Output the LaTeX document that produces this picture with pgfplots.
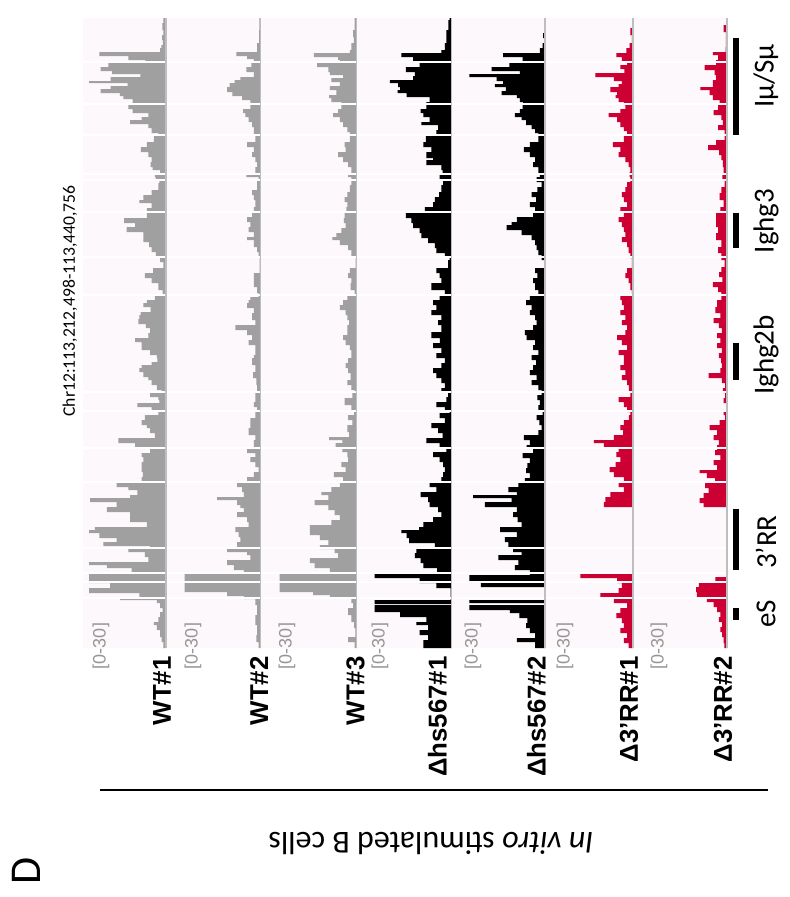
\documentclass[border=0pt]{standalone}
\usepackage{pgfplots}
\pgfplotsset{compat=1.18}
\usepackage{fontspec}
\setmainfont{Carlito}
\newfontfamily\lab{Liberation Sans}
\definecolor{wtgray}{RGB}{160,160,160}
\definecolor{trackred}{RGB}{204,0,51}
\definecolor{bgpink}{RGB}{253,248,252}
\definecolor{basegray}{RGB}{190,190,190}
\definecolor{labgray}{RGB}{150,150,150}
\pgfplotsset{track/.style={hide axis, scale only axis, anchor=north east, height=315pt,
  xmin=0, ymin=18, ymax=648, x dir=reverse, y dir=reverse, clip=false}}
\begin{document}
\begin{tikzpicture}
\useasboundingbox (0,0) rectangle (395pt,-448.5pt);
\begin{scope}[x=0.5pt,y=-0.5pt]
\fill[bgpink] (83,18) rectangle (727,648);
\end{scope}
% WT#1
\begin{axis}[track, at={(83pt,-9pt)}, width=41.5pt, xmax=32.34]
\addplot[xbar interval, fill=wtgray, draw=none] coordinates {
(1,18) (1.4,23) (1,30) (1.5,35) (1.2,40) (1.8,45) (2.3,48) (26,52) (14.7,56) (8,60) (22.5,63) (25.5,67) (21,71) (10,74) (21.6,77) (30,81) (15,83) (21.6,86) (25.5,89) (18,93) (16.6,96) (13,99) (8.8,103) (14.7,105) (13,109) (6.9,113) (9.5,117) (14,120) (6.9,124) (5.6,128) (3,133) (4.7,136) (7.5,142) (9.8,147) (6.9,152) (5.6,157) (6,162) (5.2,167) (2.3,170) (4.3,173) (4,177) (2.6,180) (3,183) (5.6,190) (8.8,195) (10.4,200) (5.6,203) (7.5,208) (7.5,212) (16.3,218) (12,223) (15.3,227) (8.8,232) (8.8,237) (6.6,242) (5.6,247) (3.9,252) (2.3,257) (1,262) (5,268) (8.2,273) (5.6,278) (3,283) (1.3,290) (4.3,295) (7.5,300) (8.8,303) (6,307) (9.9,312) (10.4,315) (10.8,319) (7.8,324) (6.2,328) (6.9,333) (12,338) (9.5,342) (6.2,350) (3.6,355) (3.4,358) (5.6,362) (9.5,365) (10.4,368) (8.8,372) (6.9,377) (5.6,380) (3.6,385) (1.7,390) (6.2,393) (3,397) (2.6,400) (11.2,403) (5.6,407) (3,410) (8.2,415) (9.5,420) (7.5,425) (6.2,428) (4.3,433) (18.6,438) (12,443) (6.2,448) (9.5,453) (8.8,457) (9.5,462) (9.5,467) (9,472) (9.5,477) (19.2,482) (14.7,487) (11.2,490) (14,495) (29.6,498) (19.2,502) (23,507) (14,512) (14,517) (7.5,522) (27.7,527) (30,530) (26,533) (19.2,538) (24.4,542) (6.2,546) (14.7,549) (8.2,552) (6.9,557) (30,562) (23,565) (13.4,568) (30,573) (30,578) (21.8,583) (30,588) (10.4,593) (17.9,597) (3.6,600) (2.3,603) (1.3,608) (2.3,612) (3,617) (4.7,622) (3.6,625) (2.3,630) (1.7,637) (1,642) (0,648)};
\end{axis}
% WT#2
\begin{axis}[track, at={(130.25pt,-9pt)}, width=47.25pt, xmax=36.82]
\addplot[xbar interval, fill=wtgray, draw=none] coordinates {
(0.4,18) (0.5,30) (1.3,43) (1.3,48) (9.4,52) (5.2,56) (2.6,59) (3.6,63) (5.5,67) (2.6,72) (7.8,77) (10.1,80) (12,83) (13,87) (11,92) (7.2,96) (3.9,100) (3.9,104) (6.8,109) (5.9,113) (4.6,117) (3.3,122) (2.6,127) (2,135) (5.2,142) (2.6,147) (3.3,152) (2,157) (1.3,162) (2,167) (5.5,173) (0.7,177) (1.3,180) (3.3,190) (2.6,195) (2,200) (2.6,207) (3.3,212) (5.2,217) (3.9,222) (4.6,227) (2.6,232) (5.2,237) (2.6,240) (1.3,247) (0.7,252) (0.3,257) (2.6,273) (1.3,287) (0.7,293) (3.9,297) (4.6,300) (5.2,303) (2.6,308) (3.3,313) (2,320) (9.8,325) (5.2,330) (3.3,335) (4.6,340) (2,345) (2.6,355) (3.3,358) (2,365) (2.9,372) (1.6,378) (1.3,385) (2,392) (2.6,402) (1.3,407) (2,412) (3.9,418) (3.9,423) (4.6,428) (2,435) (2.6,440) (5.2,448) (2,453) (3.9,457) (2,462) (0.7,467) (2.6,472) (5.2,477) (9.1,482) (7.2,487) (6.5,492) (16.9,497) (9.1,500) (7.8,505) (6.5,508) (9.1,512) (5.2,517) (4.6,522) (9.8,527) (8.5,532) (7.8,537) (9.1,542) (13,547) (5.2,552) (3.9,555) (13,560) (10.4,565) (6.5,570) (29.6,573) (13,592) (6.5,596) (2,599) (1.3,605) (2,615) (1.3,625) (1.6,635) (0.7,642) (0,648)};
\end{axis}
% WT#3
\begin{axis}[track, at={(178.25pt,-9pt)}, width=48pt, xmax=37.40]
\addplot[xbar interval, fill=wtgray, draw=none] coordinates {
(0.7,18) (1.3,30) (1,37) (2,43) (2.6,50) (16.6,53) (7.2,57) (6.5,60) (15.3,63) (11,67) (10.4,72) (5.2,75) (9.8,78) (6.5,82) (10.4,86) (7.8,90) (10.7,95) (9.8,98) (5.9,102) (5.9,105) (7.2,109) (9.1,113) (6.5,117) (5.2,122) (3.6,127) (2.6,132) (2.6,136) (4.6,142) (4.2,147) (7.2,152) (5.2,157) (3.3,162) (2,167) (3.3,173) (2,177) (2,180) (2.6,185) (3.6,192) (4.6,197) (3.6,202) (3.9,207) (4.6,213) (4.9,218) (4.2,223) (5.9,228) (7.8,233) (9.4,237) (6.5,240) (3.3,245) (2,250) (0.3,257) (2.6,268) (3.3,273) (2,278) (2.3,283) (0.7,290) (3.6,295) (5.2,300) (6.5,305) (4.2,310) (3.6,315) (2.9,320) (3.6,325) (5.2,335) (4.2,340) (2.6,345) (2,350) (3.3,358) (4.2,363) (3.3,368) (2.3,373) (3.6,380) (2,385) (0.7,390) (1.6,393) (4.6,398) (2,405) (0.9,410) (3.3,415) (1.6,420) (3.6,425) (2.9,432) (10.7,437) (5.5,440) (8.1,443) (5.5,448) (3.6,452) (3.3,457) (5.9,462) (4.2,467) (8.8,472) (5.2,477) (6.5,482) (9.8,487) (13.7,492) (11,495) (16.3,500) (11,505) (8.5,510) (6.5,515) (9.8,520) (18.2,525) (18.2,530) (14.3,535) (11,540) (14.3,545) (8.5,549) (7.2,553) (18.2,558) (16.3,563) (10.4,568) (30,573) (16.9,592) (10.4,595) (2,598) (1.3,603) (3.3,608) (2,615) (0.9,622) (0.4,628) (3.3,637) (0.7,642) (0,648)};
\end{axis}
% Dhs567#1
\begin{axis}[track, at={(225.75pt,-9pt)}, width=47.5pt, xmax=37.01]
\addplot[xbar interval, fill=black, draw=none] coordinates {
(0.7,18) (1.2,20) (2,30) (2.6,43) (3.9,50) (19.5,53) (15,57) (5.9,61) (12.4,63) (17.8,67) (14.3,72) (15,76) (24,80) (20.8,83) (20,87) (21,90) (17.5,93) (8.5,97) (9.8,102) (9.8,105) (12,109) (11,113) (8.5,117) (11.7,122) (5.2,125) (5.9,130) (10,136) (11,142) (7.8,147) (9.8,152) (7.2,158) (9.8,160) (3.9,165) (3.5,170) (4.6,174) (3.3,180) (3.9,185) (4.8,192) (6.5,197) (7.2,202) (10.4,207) (17.8,212) (15.6,218) (15,223) (12.4,228) (11.7,233) (9.1,238) (6.5,243) (5.9,248) (2.6,253) (0.7,257) (1.3,260) (5.9,268) (4.6,273) (3.9,278) (7.8,283) (2.6,290) (4.6,295) (7.2,300) (5.9,305) (7.8,310) (3.9,315) (5.2,320) (3.9,325) (7.8,332) (4.5,338) (7.2,343) (3.9,348) (5.9,353) (2.6,358) (3.9,363) (7.2,368) (5.9,373) (3.9,378) (2.6,383) (3.9,388) (1.3,392) (2,397) (5.9,402) (2.6,407) (0.7,410) (4.6,413) (2.6,418) (7.8,423) (5.2,428) (3.5,433) (9.8,438) (4.6,443) (2,448) (7.2,452) (4.6,457) (3.3,462) (2.6,467) (3.3,472) (3.9,477) (8.5,482) (5.9,487) (12,492) (9.1,497) (8.5,502) (5.2,507) (3.9,512) (7.2,517) (11,522) (12.6,527) (19.5,530) (17.5,533) (16.5,538) (6.5,543) (13.7,548) (14.3,553) (12,558) (11,563) (5.6,568) (30,573) (12.4,578) (5.9,583) (0.3,588) (30,600) (0,604) (30,605) (20,612) (9.8,617) (13.7,622) (9.1,625) (12.4,630) (9.1,635) (11,640) (0,648)};
\end{axis}
% Dhs567#2
\begin{axis}[track, at={(272.5pt,-9pt)}, width=46.75pt, xmax=36.43]
\addplot[xbar interval, fill=black, draw=none] coordinates {
(0,18) (0.7,33) (0,38) (0.9,43) (2,48) (16.3,53) (8.7,57) (1,61) (13.9,63) (20.8,67) (9.8,71) (29.5,74) (18.9,77) (16.3,81) (19.5,84) (15.2,87) (16.9,91) (11,95) (9.8,98) (8.5,102) (8.7,105) (9.8,109) (11.7,113) (9.1,117) (7.4,120) (5.2,125) (3.9,129) (2.6,133) (2.6,136) (5.9,142) (8.2,147) (5.9,152) (3.9,157) (4.6,162) (2.6,167) (2,173) (3.3,177) (1.3,182) (3,187) (5.2,192) (3.5,197) (5.9,202) (3.9,207) (4.6,212) (11,217) (13,222) (15,225) (9.1,230) (5.2,235) (3.9,240) (3.3,245) (2.6,250) (1.3,255) (0.3,260) (3.9,268) (3,273) (4.6,278) (3.9,283) (2.6,290) (5.9,295) (7.4,300) (5.2,305) (5.9,310) (3.9,315) (3.3,320) (4.6,325) (7.8,330) (7.2,335) (3.9,340) (4.6,345) (2.6,350) (5.2,355) (3.5,360) (4.6,365) (5.9,370) (3.3,375) (5.2,380) (2.6,385) (1.3,390) (3,395) (2,400) (2.6,405) (0.9,410) (3.3,415) (2.2,420) (1.3,425) (2.6,430) (8.2,435) (5.9,440) (7.2,445) (4.6,448) (8.7,453) (5.9,458) (6.9,463) (7.4,468) (5.9,473) (7.8,478) (10.4,482) (14.3,487) (11,492) (28,495) (13,498) (23.4,502) (11,507) (12.4,512) (10.7,517) (9.1,522) (17.5,527) (11,532) (15.6,537) (14.3,542) (12.4,547) (9.1,552) (18.2,555) (10.4,560) (11.7,565) (5.9,570) (29.5,575) (25,582) (0.3,587) (29.5,600) (0,603) (29.5,605) (13.7,610) (10,613) (6.9,618) (7.4,623) (5.9,628) (3.9,633) (11,638) (3.9,642) (0,648)};
\end{axis}
% D3'RR#1
\begin{axis}[track, at={(316.5pt,-9pt)}, width=44pt, xmax=34.29]
\addplot[xbar interval, fill=trackred, draw=none] coordinates {
(0,18) (1,28) (0.4,35) (1.3,43) (2.6,48) (6.5,53) (4.3,57) (2.3,61) (4.9,65) (3.4,69) (14.7,73) (7.5,77) (4.3,81) (5.6,84) (8.8,87) (6.2,92) (6.8,95) (5.6,98) (3.6,102) (3,105) (4.9,109) (9.5,113) (6.2,117) (4.9,122) (3.6,127) (2.3,131) (3.6,136) (7.8,142) (4.9,147) (5.6,152) (3,157) (1.7,162) (1,167) (1.3,172) (1,177) (2.3,182) (3,187) (4.3,192) (3.6,197) (2.3,202) (4.9,207) (3.6,212) (5.6,217) (4.3,222) (3.6,227) (3,232) (4.3,237) (2.3,242) (1.7,247) (1,253) (0.4,258) (2.3,268) (3,273) (1.7,278) (1,283) (0.4,290) (4.9,295) (4.3,300) (3.6,305) (4.9,310) (3,315) (4.3,320) (2.3,325) (3,330) (6.2,335) (4.3,340) (2.3,345) (5.6,350) (3.6,355) (3.6,360) (4.9,365) (3,370) (4.3,375) (2.3,380) (1.6,385) (1,392) (5.6,397) (3.6,402) (2.3,407) (1,412) (1.6,415) (3.6,420) (4.9,425) (3.9,430) (7.5,435) (15.3,440) (11.4,443) (5.6,447) (6.5,452) (4.9,457) (6.8,462) (9.1,467) (7.5,472) (3.6,477) (5.6,482) (3.6,487) (8.8,492) (10.8,497) (11.4,502) (0,507) (20.5,573) (6.2,578) (4.3,583) (5.6,588) (12.7,593) (7.5,598) (2.3,603) (4.9,608) (6.5,613) (4.3,618) (3.6,623) (4.9,628) (2.3,633) (3.6,638) (1.7,643) (0,648)};
\end{axis}
% D3'RR#2
\begin{axis}[track, at={(363.5pt,-9pt)}, width=47pt, xmax=36.62]
\addplot[xbar interval, fill=trackred, draw=none] coordinates {
(0.3,18) (1.3,25) (0.4,32) (0.5,47) (5.5,52) (3.5,55) (4.2,60) (8.7,65) (4.8,70) (4.2,75) (5.5,80) (10.4,87) (6.8,90) (5.5,95) (2.9,100) (3.5,105) (5.2,110) (2.2,115) (1.6,120) (3.5,125) (0.9,130) (0.9,135) (4.2,140) (7.4,145) (3.1,150) (2.2,155) (1.6,160) (1.3,167) (1.8,173) (0.9,180) (2.2,187) (2.9,193) (1.3,200) (2.6,207) (4.2,213) (4.2,220) (3.5,227) (4.2,233) (2.2,240) (3.5,247) (2.2,253) (0.9,260) (2.2,267) (3.1,272) (1.8,277) (5.5,282) (3.5,287) (2.2,292) (3.9,300) (4.5,307) (2.6,313) (5.2,318) (3.2,323) (2,328) (3.9,333) (2.6,338) (3.9,343) (2,348) (3.2,353) (2.3,358) (2,363) (2.6,368) (7.2,373) (2,378) (0.7,383) (1.6,388) (0.7,393) (1.3,398) (0.3,403) (1.3,410) (0.7,415) (2.9,420) (6.8,425) (3.9,430) (5.2,435) (3.2,440) (3.9,445) (4.6,450) (2.6,455) (5.2,460) (3.9,465) (10.7,470) (7.8,473) (4.6,478) (8.5,483) (7.2,488) (9.1,493) (10.7,498) (9.1,503) (0,507) (4.5,577) (11,582) (12,587) (11.7,592) (7.8,597) (5.2,602) (3.9,607) (2.6,612) (3.2,617) (1.9,622) (2.6,627) (1.9,632) (1.3,637) (1,643) (0,648)};
\end{axis}
\begin{scope}[x=0.5pt,y=-0.5pt]
\foreach \yy in {62,104,135,174,180,212,257,295,392,411,448,482,548,573,582,598}
  \draw[white, line width=0.6pt] (83,\yy) -- (727,\yy);
\foreach \bx in {166,260.5,356.5,451.5,545,633,727}
  \draw[basegray, line width=0.7pt] (\bx,18) -- (\bx,648);
% track labels
\foreach \cx/\txt in {162/WT\#1,259/WT\#2,355.5/WT\#3,437.5/Δhs567\#1,536.5/Δhs567\#2,629/Δ3’RR\#1,723/Δ3’RR\#2}
  \node[rotate=90, anchor=east, inner sep=0, font=\lab\bfseries\fontsize{12.9}{15}\selectfont] at (\cx,656) {\txt};
\foreach \cx in {101,193,287,380,473,565,659}
  \node[rotate=90, inner sep=0, text=labgray, font=\lab\fontsize{9}{10}\selectfont] at (\cx,646) {[0-30]};
\node[rotate=90, inner sep=0, font=\fontsize{8.8}{10}\selectfont] at (70,301) {Chr12:113,212,498-113,440,756};
% gene annotations
\fill (733,608) rectangle (739,620);
\fill (733,509) rectangle (739,570);
\fill (733,343) rectangle (739,380);
\fill (733,213) rectangle (739,248);
\fill (733,38) rectangle (739,135);
\node[rotate=90, inner sep=0, font=\fontsize{14.5}{16}\selectfont] at (766,614) {eS};
\node[rotate=90, inner sep=0, font=\fontsize{14.5}{16}\selectfont] at (766,542) {3’RR};
\node[rotate=90, inner sep=0, font=\fontsize{14.5}{16}\selectfont] at (766,355) {Ighg2b};
\node[rotate=90, inner sep=0, font=\fontsize{14.5}{16}\selectfont] at (766,221) {Ighg3};
\node[rotate=90, inner sep=0, font=\fontsize{14.5}{16}\selectfont] at (766,76) {Iμ/Sμ};
\draw[line width=0.75pt] (100,790) -- (768,790);
\node[rotate=180, inner sep=0, font=\fontsize{16}{18}\selectfont] at (431,843) {\textit{In vitro} stimulated B cells};
\node[rotate=90, inner sep=0, font=\fontsize{22}{24}\selectfont] at (26,871) {D};
\end{scope}
\end{tikzpicture}
\end{document}
